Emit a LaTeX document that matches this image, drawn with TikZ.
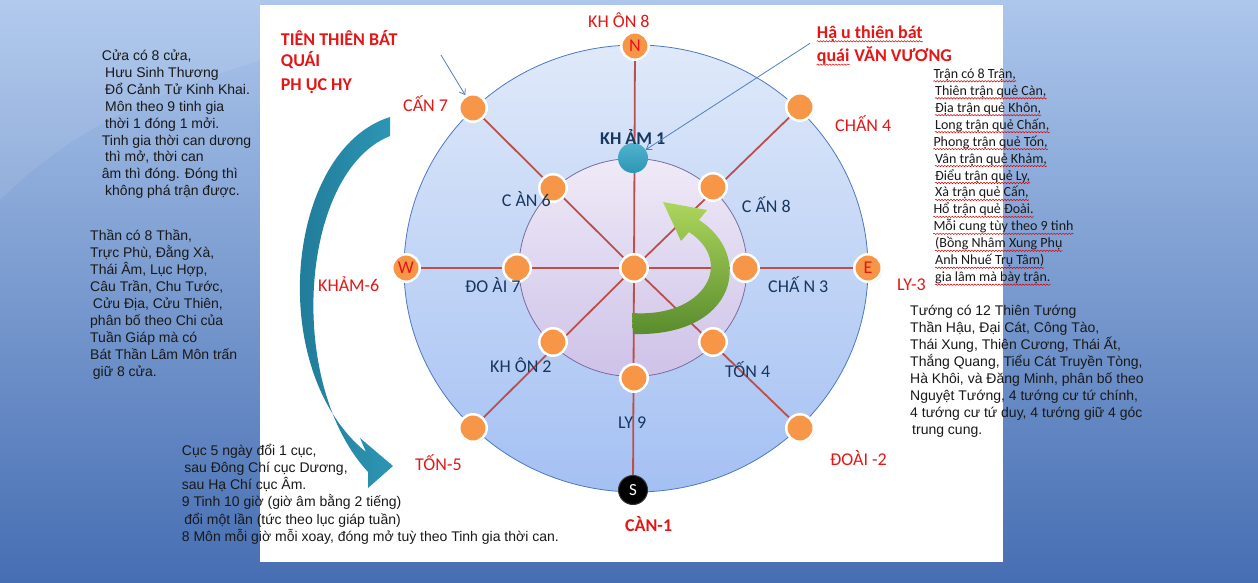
\documentclass[tikz,border=0pt]{standalone}
\usepackage{fontspec}
\setmainfont{Liberation Sans}
\newfontfamily\calib{Carlito}
\usetikzlibrary{arrows.meta,decorations.pathmorphing,shadows}
\definecolor{bgtop}{RGB}{172,198,236}
\definecolor{bgbot}{RGB}{70,110,178}
\definecolor{outtop}{RGB}{223,233,249}
\definecolor{outbot}{RGB}{164,192,243}
\definecolor{intop}{RGB}{239,234,247}
\definecolor{inbot}{RGB}{206,194,232}
\definecolor{outline}{RGB}{79,120,190}
\definecolor{inline}{RGB}{120,108,160}
\definecolor{dotorange}{RGB}{247,150,70}
\definecolor{spokecol}{RGB}{185,80,78}
\definecolor{labred}{RGB}{228,22,22}
\definecolor{navy}{RGB}{23,55,94}
\definecolor{tealdark}{RGB}{28,115,145}
\definecolor{tealmid}{RGB}{45,150,180}
\definecolor{teallight}{RGB}{80,178,206}
\definecolor{greenlight}{RGB}{172,214,92}
\definecolor{greendark}{RGB}{88,138,44}
\definecolor{txtcol}{RGB}{25,25,25}
\definecolor{pointer}{RGB}{79,129,189}
\pgfdeclarelayer{back}
\pgfdeclarelayer{mid}
\pgfsetlayers{back,mid,main}
\tikzset{
  dot/.style={circle, fill=dotorange, draw=white, line width=2.5pt, minimum size=27.5pt, inner sep=0pt,
    font=\calib\fontsize{18}{20}\selectfont, text=labred,
    drop shadow={opacity=0.25, shadow xshift=1pt, shadow yshift=-1.2pt}},
  tealdot/.style={circle, top color=teallight, bottom color=tealmid, minimum size=30pt, inner sep=0pt},
  blackdot/.style={circle, fill=black, draw=black!80, line width=1pt, minimum size=29pt, inner sep=0pt,
    font=\calib\fontsize{17}{20}\selectfont, text=white},
  spoke/.style={draw=spokecol, line width=1.8pt},
  lbl/.style={font=\calib\fontsize{18}{20}\selectfont, text=labred, inner sep=0pt, anchor=base west},
  blbl/.style={font=\calib\bfseries\fontsize{18}{20}\selectfont, text=labred, inner sep=0pt, anchor=base west},
  nlbl/.style={font=\calib\fontsize{18}{20}\selectfont, text=navy, inner sep=0pt, anchor=base west},
  txt/.style={inner sep=0pt, anchor=base west, text=txtcol},
  wavy/.style={draw=red!85!black, line width=0.5pt, decorate,
    decoration={snake, segment length=3pt, amplitude=0.7pt}},
  pointerline/.style={draw=pointer, line width=0.8pt, -{Straight Barb[length=5pt,width=7pt]}}
}
\newcommand{\tblock}[6]{%
  \foreach \ddx/\tx [count=\i] in {#6} {
    \node[txt, font=#2] (#1\i) at ({#3+\ddx},{#4+(\i-1)*#5}) {\tx};
  }}
\begin{document}
\begin{tikzpicture}[x=1pt,y=-1pt]
\useasboundingbox (0,0) rectangle (1258,582);
\begin{pgfonlayer}{back}
  \shade[top color=bgtop, bottom color=bgbot] (0,0) rectangle (1258,582);
  \fill[white, opacity=0.08] (0,0) -- (260,0) -- (260,60) .. controls (170,90) and (80,120) .. (0,200) -- cycle;
  \fill[white] (260,5) rectangle (1003,562);
  \shadedraw[top color=outtop, bottom color=outbot, draw=outline, line width=0.8pt]
    (636,268.5) ellipse [x radius=232pt, y radius=223.5pt];
  \shadedraw[top color=intop, bottom color=inbot, draw=inline, line width=0.8pt]
    (633,267.5) ellipse [x radius=114pt, y radius=109pt];
\end{pgfonlayer}

% outer ring nodes
\node[dot] (N)  at (635,46)  {N};
\node[dot] (NE) at (800,107) {};
\node[dot] (E)  at (868,268) {E};
\node[dot] (SE) at (800,428) {};
\node[blackdot] (S) at (633,490) {S};
\node[dot] (SW) at (473,428) {};
\node[dot] (W)  at (406,268) {W};
\node[dot] (NW) at (473,108) {};
% inner ring nodes
\node[tealdot] (K1) at (633,158) {};
\node[dot] (INE) at (713,187) {};
\node[dot] (IE)  at (745,268) {};
\node[dot] (ISE) at (713,342) {};
\node[dot] (IS)  at (634,378) {};
\node[dot] (ISW) at (553,342) {};
\node[dot] (IW)  at (517,268) {};
\node[dot] (INW) at (553,188) {};
\node[dot] (C)   at (634,268) {};

\begin{pgfonlayer}{mid}
  \foreach \n in {N,NE,E,SE,S,SW,W,NW} \draw[spoke] (C) -- (\n);
  % green curved arrow
  \shade[top color=greenlight, bottom color=greendark]
    (632,313) .. controls (705,318) and (735,262) .. (689,232)
    -- (681,241) -- (663,202) -- (707,210) -- (699,220)
    .. controls (754,255) and (737,337) .. (633,334) -- cycle;
\end{pgfonlayer}

% teal curved arrow
\shade[left color=tealdark, right color=tealmid]
  (390,117) .. controls (285,150) and (265,370) .. (366,452)
  -- (360,438) -- (393,466) -- (368,488) -- (368,472)
  .. controls (285,382) and (300,172) .. (390,136) -- cycle;

% outer labels
\node[lbl] (lKHON8) at (588,27.3) {KH ÔN 8};
\node[lbl] (lCAN7)  at (403,111.7) {CẤN 7};
\node[lbl] (lCHAN4) at (835,131.7) {CHẤN 4};
\node[lbl] (lKHAM6) at (318,291.7) {KHẢM-6};
\node[lbl] (lLY3)   at (897,290) {LY-3};
\node[lbl] (lTON5)  at (415,470) {TỐN-5};
\node[lbl] (lDOAI2) at (830,465) {ĐOÀI -2};
\node[blbl] (lCAN1) at (625,531.7) {CÀN-1};
% inner labels
\node[nlbl, font=\calib\bfseries\fontsize{18}{20}\selectfont] (lKHAM1) at (600,144) {KH ẢM 1};
\node[nlbl] (lCAN6)  at (501.7,206) {C ÀN 6};
\node[nlbl] (lCAN8)  at (741.7,212.3) {C ẤN 8};
\node[nlbl] (lDOAI7) at (465,292.7) {ĐO ÀI 7};
\node[nlbl] (lCHAN3) at (768,292.7) {CHẤ N 3};
\node[nlbl] (lKHON2) at (490,372.3) {KH ÔN 2};
\node[nlbl] (lTON4)  at (725,377.3) {TỐN 4};
\node[nlbl] (lLY9)   at (618,428) {LY 9};

% titles
\node[blbl] (t1a) at (280.7,45) {TIÊN THIÊN BÁT};
\node[blbl] (t1b) at (280.7,66.7) {QUÁI};
\node[blbl] (t1c) at (280.7,90) {PH ỤC HY};
\node[blbl] (t2a) at (816.7,38.3) {Hậ u thiên bát};
\node[blbl] (t2b) at (816.7,61.7) {quái};
\node[blbl] (t2c) at ([xshift=4.5pt]t2b.base east) {VĂN VƯƠNG};
\draw[wavy] ([yshift=-3pt]t2a.base west) -- ([yshift=-3pt]t2a.base east);
\draw[wavy] ([yshift=-3pt]t2b.base west) -- ([yshift=-3pt]t2b.base east);

% pointer lines
\coordinate (p1) at (441,55);
\coordinate (p2) at (810,43.3);
\draw[pointerline] (p1) -- (NW);
\draw[pointerline] (p2) -- (K1);

% text blocks
\tblock{A}{\fontsize{14}{17}\selectfont}{101.7}{60.5}{16.9}{%
  0/{Cửa có 8 cửa,}, 3.3/{Hưu Sinh Thương}, 3.3/{Đổ Cảnh Tử Kinh Khai.},
  3.3/{Môn theo 9 tinh gia}, 3.3/{thời 1 đóng 1 mởi.}, 0/{Tinh gia thời can dương},
  3.3/{thì mở, thời can}, 0/{âm thì đóng. Đóng thì}, 3.3/{không phá trận được.}}
\tblock{B}{\fontsize{14}{17}\selectfont}{90}{240}{17.1}{%
  0/{Thần có 8 Thần,}, 0/{Trực Phù, Đằng Xà,}, 0/{Thái Âm, Lục Hợp,},
  0/{Câu Trần, Chu Tước,}, 2.7/{Cửu Địa, Cửu Thiên,}, 0/{phân bố theo Chi của},
  0/{Tuần Giáp mà có}, 0/{Bát Thần Lâm Môn trấn}, 2.7/{giữ 8 cửa.}}
\tblock{D}{\fontsize{14}{17}\selectfont}{181.7}{455}{17.3}{%
  0/{Cục 5 ngày đổi 1 cục,}, 2.5/{sau Đông Chí cục Dương,}, 0/{sau Hạ Chí cục Âm.},
  0/{9 Tinh 10 giờ (giờ âm bằng 2 tiếng)}, 2.5/{đổi một lần (tức theo lục giáp tuần)},
  0/{8 Môn mỗi giờ mỗi xoay, đóng mở tuỳ theo Tinh gia thời can.}}
\tblock{R}{\calib\fontsize{14}{17}\selectfont}{933.3}{78.3}{16.95}{%
  0/{Trận có 8 Trận,}, 1.7/{Thiên trận quẻ Càn,}, 1.7/{Địa trận quẻ Khôn,},
  1.7/{Long trận quẻ Chấn,}, 0/{Phong trận quẻ Tốn,}, 1.7/{Vân trận quẻ Khảm,},
  1.7/{Điểu trận quẻ Ly,}, 1.7/{Xà trận quẻ Cấn,}, 0/{Hổ trận quẻ Đoài.},
  0/{Mỗi cung tùy theo 9 tinh}, 1.7/{(Bồng Nhâm Xung Phụ}, 1.7/{Anh Nhuế Trụ Tâm)},
  1.7/{gia lâm mà bày trận.}}
\foreach \i in {1,...,13}
  \draw[wavy] ([yshift=-3pt]R\i.base west) -- ([yshift=-3pt]R\i.base east);
\tblock{T}{\fontsize{14}{17}\selectfont}{910}{315}{17.1}{%
  0/{Tướng có 12 Thiên Tướng}, 0/{Thần Hậu, Đại Cát, Công Tào,},
  0/{Thái Xung, Thiên Cương, Thái Ất,}, 0/{Thắng Quang, Tiểu Cát Truyền Tòng,},
  0/{Hà Khôi, và Đăng Minh, phân bố theo}, 0/{Nguyệt Tướng, 4 tướng cư tứ chính,},
  0/{4 tướng cư tứ duy, 4 tướng giữ 4 góc}, 2/{trung cung.}}
\end{tikzpicture}
\end{document}
